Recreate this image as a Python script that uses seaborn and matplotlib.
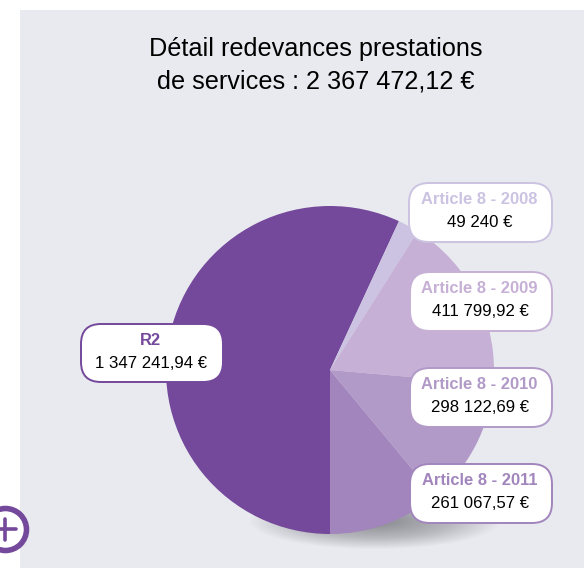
from matplotlib import pyplot as plt
from matplotlib.patches import Circle, Ellipse, FancyBboxPatch, Rectangle
import numpy as np
import seaborn as sns

categories = ['R2', 'Article 8 - 2008', 'Article 8 - 2009', 'Article 8 - 2010', 'Article 8 - 2011']
values = [1347241.94, 49240, 411799.92, 298122.69, 261067.57]
value_labels = ['1 347 241,94 €', '49 240 €', '411 799,92 €', '298 122,69 €', '261 067,57 €']
colours = ['#74489a', '#cbc3e1', '#c6b0d5', '#b29ac8', '#a185bc']
title = 'Détail redevances prestations\nde services : 2 367 472,12 €'

W, H = 584, 568

sns.set_theme(style='white')
plt.rcParams['font.family'] = ['Liberation Sans', 'DejaVu Sans']
palette = sns.color_palette(colours)

fig = plt.figure(figsize=(W / 100, H / 100), dpi=100)
ax = fig.add_axes([0, 0, 1, 1])


def py(y):
    # picture coordinates have y going down
    return H - y


ax.add_patch(Rectangle((20, py(568)), 564, 558, fc='#e9eaf0', ec='none', zorder=0))

# soft shadow under the pie
for s in np.linspace(1, 0.05, 40):
    ax.add_patch(Ellipse((375, py(521)), 250 * s, 56 * s, fc='#55555a', ec='none', alpha=0.018, zorder=1))

wedges, _ = ax.pie(values, colors=palette, startangle=270, counterclock=False,
                   center=(330, py(370)), radius=164, frame=False,
                   wedgeprops={'linewidth': 0})
for w in wedges:
    w.set_zorder(2)

# label boxes: left, top, right, bottom
boxes = [(81, 324, 223, 382), (409, 183, 552, 242), (410, 272, 552, 331),
         (410, 368, 552, 427), (410, 464, 552, 523)]
for name, val, c, (x0, y0, x1, y1) in zip(categories, value_labels, palette, boxes):
    ax.add_patch(FancyBboxPatch((x0, py(y1)), x1 - x0, y1 - y0,
                                boxstyle='round,pad=0,rounding_size=20',
                                fc='white', ec=c, lw=1.4, zorder=3))
    xc = (x0 + x1) / 2
    ax.text(xc - 1.5, py(y0 + 16.5), name, color=c, fontsize=11.9, fontweight='bold',
            ha='center', va='center', zorder=4)
    ax.text(xc - 1, py(y0 + 39.5), val, color='black', fontsize=12.1,
            ha='center', va='center', zorder=4)

ax.text(316, py(65), title, color='black', fontsize=18.2, ha='center', va='center',
        linespacing=1.47, zorder=4)

# plus button at the lower left
ax.add_patch(Circle((5.5, py(529.5)), 21, fc='white', ec='#74489a', lw=4, zorder=4))
ax.plot([0, 16], [py(529), py(529)], color='#74489a', lw=2.6, solid_capstyle='round', zorder=5)
ax.plot([5, 5], [py(519), py(540)], color='#74489a', lw=2.6, solid_capstyle='round', zorder=5)

ax.set_xlim(0, W)
ax.set_ylim(0, H)
ax.set_aspect('equal')
ax.axis('off')

plt.savefig('out.png', dpi=100)
